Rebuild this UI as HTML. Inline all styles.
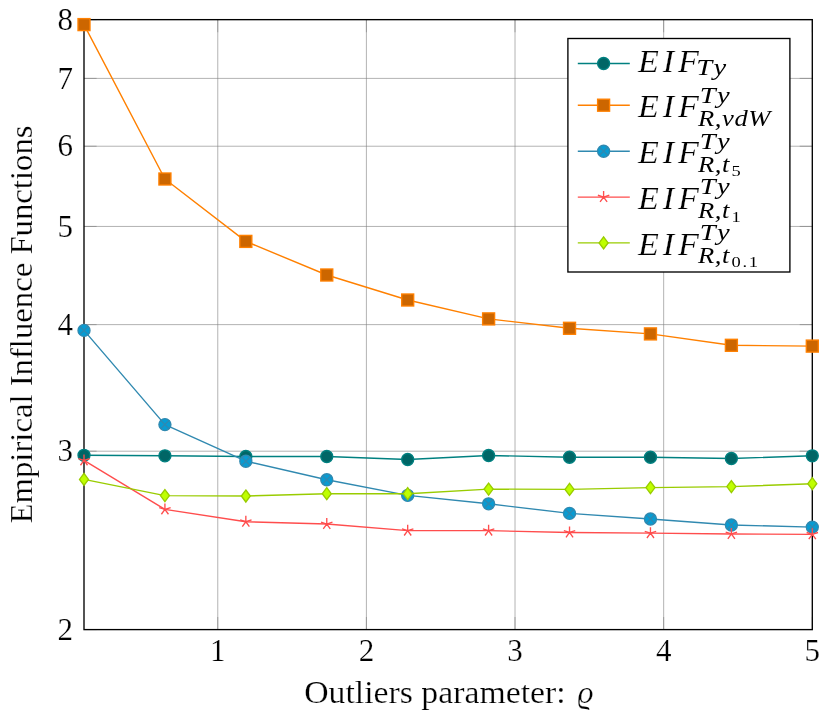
<!DOCTYPE html>
<html><head><meta charset="utf-8"><title>EIF chart</title>
<style>
html,body{margin:0;padding:0;background:#fff;}
body{width:830px;height:718px;overflow:hidden;font-family:"Liberation Serif",serif;}
svg{display:block;will-change:transform;}
text{font-family:"Liberation Serif",serif;fill:#000;stroke:#fff;stroke-width:0.22px;}
.t{font-size:31px;}
.i{font-size:31px;font-style:italic;}
.s{font-size:22.3px;font-style:italic;stroke:none;}
.ss{font-size:15.5px;font-style:normal;stroke:none;}
</style></head><body>
<svg width="830" height="718" viewBox="0 0 830 718">
<rect x="0" y="0" width="830" height="718" fill="#fff"/>
<path d="M217.77 19.65V629.6M366.40 19.65V629.6M515.03 19.65V629.6M663.67 19.65V629.6M84.0 451.20H812.3M84.0 324.62H812.3M84.0 226.44H812.3M84.0 146.23H812.3M84.0 78.40H812.3" stroke="#808080" stroke-width="0.6" fill="none"/>
<path d="M217.77 629.6v-12.6M217.77 19.65v12.6M366.40 629.6v-12.6M366.40 19.65v12.6M515.03 629.6v-12.6M515.03 19.65v12.6M663.67 629.6v-12.6M663.67 19.65v12.6M812.30 629.6v-12.6M812.30 19.65v12.6M84.0 629.60h12.6M812.3 629.60h-12.6M84.0 451.20h12.6M812.3 451.20h-12.6M84.0 324.62h12.6M812.3 324.62h-12.6M84.0 226.44h12.6M812.3 226.44h-12.6M84.0 146.23h12.6M812.3 146.23h-12.6M84.0 78.40h12.6M812.3 78.40h-12.6M84.0 19.65h12.6M812.3 19.65h-12.6" stroke="#808080" stroke-width="0.6" fill="none"/>
<rect x="84.0" y="19.65" width="728.30" height="609.95" fill="none" stroke="#000" stroke-width="1.35"/>
<polyline points="84.00,455.30 164.92,455.80 245.84,456.50 326.77,456.50 407.69,459.50 488.61,455.50 569.53,457.20 650.46,457.20 731.38,458.50 812.30,455.80" fill="none" stroke="#008080" stroke-width="1.4" stroke-linejoin="round"/>
<circle cx="84.00" cy="455.30" r="6.0" fill="#006666" stroke="#008080" stroke-width="1.35"/>
<circle cx="164.92" cy="455.80" r="6.0" fill="#006666" stroke="#008080" stroke-width="1.35"/>
<circle cx="245.84" cy="456.50" r="6.0" fill="#006666" stroke="#008080" stroke-width="1.35"/>
<circle cx="326.77" cy="456.50" r="6.0" fill="#006666" stroke="#008080" stroke-width="1.35"/>
<circle cx="407.69" cy="459.50" r="6.0" fill="#006666" stroke="#008080" stroke-width="1.35"/>
<circle cx="488.61" cy="455.50" r="6.0" fill="#006666" stroke="#008080" stroke-width="1.35"/>
<circle cx="569.53" cy="457.20" r="6.0" fill="#006666" stroke="#008080" stroke-width="1.35"/>
<circle cx="650.46" cy="457.20" r="6.0" fill="#006666" stroke="#008080" stroke-width="1.35"/>
<circle cx="731.38" cy="458.50" r="6.0" fill="#006666" stroke="#008080" stroke-width="1.35"/>
<circle cx="812.30" cy="455.80" r="6.0" fill="#006666" stroke="#008080" stroke-width="1.35"/>
<polyline points="84.00,24.60 164.92,179.00 245.84,241.40 326.77,275.00 407.69,300.00 488.61,318.90 569.53,328.30 650.46,333.90 731.38,345.30 812.30,346.10" fill="none" stroke="#FF8000" stroke-width="1.4" stroke-linejoin="round"/>
<rect x="78.00" y="18.60" width="12.0" height="12.0" fill="#CC6600" stroke="#FF8000" stroke-width="1.35"/>
<rect x="158.92" y="173.00" width="12.0" height="12.0" fill="#CC6600" stroke="#FF8000" stroke-width="1.35"/>
<rect x="239.84" y="235.40" width="12.0" height="12.0" fill="#CC6600" stroke="#FF8000" stroke-width="1.35"/>
<rect x="320.77" y="269.00" width="12.0" height="12.0" fill="#CC6600" stroke="#FF8000" stroke-width="1.35"/>
<rect x="401.69" y="294.00" width="12.0" height="12.0" fill="#CC6600" stroke="#FF8000" stroke-width="1.35"/>
<rect x="482.61" y="312.90" width="12.0" height="12.0" fill="#CC6600" stroke="#FF8000" stroke-width="1.35"/>
<rect x="563.53" y="322.30" width="12.0" height="12.0" fill="#CC6600" stroke="#FF8000" stroke-width="1.35"/>
<rect x="644.46" y="327.90" width="12.0" height="12.0" fill="#CC6600" stroke="#FF8000" stroke-width="1.35"/>
<rect x="725.38" y="339.30" width="12.0" height="12.0" fill="#CC6600" stroke="#FF8000" stroke-width="1.35"/>
<rect x="806.30" y="340.10" width="12.0" height="12.0" fill="#CC6600" stroke="#FF8000" stroke-width="1.35"/>
<polyline points="84.00,330.40 164.92,424.60 245.84,461.20 326.77,479.70 407.69,495.40 488.61,503.80 569.53,513.40 650.46,519.00 731.38,525.00 812.30,527.10" fill="none" stroke="#3089B0" stroke-width="1.4" stroke-linejoin="round"/>
<circle cx="84.00" cy="330.40" r="6.0" fill="#079CD3" stroke="#3089B0" stroke-width="1.35"/><path d="M79.76 326.16L88.24 334.64M79.76 334.64L88.24 326.16" stroke="#3089B0" stroke-width="1.35" fill="none"/>
<circle cx="164.92" cy="424.60" r="6.0" fill="#079CD3" stroke="#3089B0" stroke-width="1.35"/><path d="M160.68 420.36L169.16 428.84M160.68 428.84L169.16 420.36" stroke="#3089B0" stroke-width="1.35" fill="none"/>
<circle cx="245.84" cy="461.20" r="6.0" fill="#079CD3" stroke="#3089B0" stroke-width="1.35"/><path d="M241.60 456.96L250.09 465.44M241.60 465.44L250.09 456.96" stroke="#3089B0" stroke-width="1.35" fill="none"/>
<circle cx="326.77" cy="479.70" r="6.0" fill="#079CD3" stroke="#3089B0" stroke-width="1.35"/><path d="M322.52 475.46L331.01 483.94M322.52 483.94L331.01 475.46" stroke="#3089B0" stroke-width="1.35" fill="none"/>
<circle cx="407.69" cy="495.40" r="6.0" fill="#079CD3" stroke="#3089B0" stroke-width="1.35"/><path d="M403.45 491.16L411.93 499.64M403.45 499.64L411.93 491.16" stroke="#3089B0" stroke-width="1.35" fill="none"/>
<circle cx="488.61" cy="503.80" r="6.0" fill="#079CD3" stroke="#3089B0" stroke-width="1.35"/><path d="M484.37 499.56L492.85 508.04M484.37 508.04L492.85 499.56" stroke="#3089B0" stroke-width="1.35" fill="none"/>
<circle cx="569.53" cy="513.40" r="6.0" fill="#079CD3" stroke="#3089B0" stroke-width="1.35"/><path d="M565.29 509.16L573.78 517.64M565.29 517.64L573.78 509.16" stroke="#3089B0" stroke-width="1.35" fill="none"/>
<circle cx="650.46" cy="519.00" r="6.0" fill="#079CD3" stroke="#3089B0" stroke-width="1.35"/><path d="M646.21 514.76L654.70 523.24M646.21 523.24L654.70 514.76" stroke="#3089B0" stroke-width="1.35" fill="none"/>
<circle cx="731.38" cy="525.00" r="6.0" fill="#079CD3" stroke="#3089B0" stroke-width="1.35"/><path d="M727.14 520.76L735.62 529.24M727.14 529.24L735.62 520.76" stroke="#3089B0" stroke-width="1.35" fill="none"/>
<circle cx="812.30" cy="527.10" r="6.0" fill="#079CD3" stroke="#3089B0" stroke-width="1.35"/><path d="M808.06 522.86L816.54 531.34M808.06 531.34L816.54 522.86" stroke="#3089B0" stroke-width="1.35" fill="none"/>
<polyline points="84.00,460.40 164.92,509.40 245.84,521.75 326.77,524.05 407.69,530.65 488.61,530.65 569.53,532.45 650.46,533.15 731.38,533.95 812.30,534.35" fill="none" stroke="#FF4D4D" stroke-width="1.4" stroke-linejoin="round"/>
<path d="M84.00 460.40L84.00 454.40M84.00 460.40L78.29 458.55M84.00 460.40L80.47 465.25M84.00 460.40L87.53 465.25M84.00 460.40L89.71 458.55" stroke="#FF4D4D" stroke-width="1.35" fill="none"/>
<path d="M164.92 509.40L164.92 503.40M164.92 509.40L159.22 507.55M164.92 509.40L161.40 514.25M164.92 509.40L168.45 514.25M164.92 509.40L170.63 507.55" stroke="#FF4D4D" stroke-width="1.35" fill="none"/>
<path d="M245.84 521.75L245.84 515.75M245.84 521.75L240.14 519.90M245.84 521.75L242.32 526.60M245.84 521.75L249.37 526.60M245.84 521.75L251.55 519.90" stroke="#FF4D4D" stroke-width="1.35" fill="none"/>
<path d="M326.77 524.05L326.77 518.05M326.77 524.05L321.06 522.20M326.77 524.05L323.24 528.90M326.77 524.05L330.29 528.90M326.77 524.05L332.47 522.20" stroke="#FF4D4D" stroke-width="1.35" fill="none"/>
<path d="M407.69 530.65L407.69 524.65M407.69 530.65L401.98 528.80M407.69 530.65L404.16 535.50M407.69 530.65L411.22 535.50M407.69 530.65L413.40 528.80" stroke="#FF4D4D" stroke-width="1.35" fill="none"/>
<path d="M488.61 530.65L488.61 524.65M488.61 530.65L482.90 528.80M488.61 530.65L485.08 535.50M488.61 530.65L492.14 535.50M488.61 530.65L494.32 528.80" stroke="#FF4D4D" stroke-width="1.35" fill="none"/>
<path d="M569.53 532.45L569.53 526.45M569.53 532.45L563.83 530.60M569.53 532.45L566.01 537.30M569.53 532.45L573.06 537.30M569.53 532.45L575.24 530.60" stroke="#FF4D4D" stroke-width="1.35" fill="none"/>
<path d="M650.46 533.15L650.46 527.15M650.46 533.15L644.75 531.30M650.46 533.15L646.93 538.00M650.46 533.15L653.98 538.00M650.46 533.15L656.16 531.30" stroke="#FF4D4D" stroke-width="1.35" fill="none"/>
<path d="M731.38 533.95L731.38 527.95M731.38 533.95L725.67 532.10M731.38 533.95L727.85 538.80M731.38 533.95L734.90 538.80M731.38 533.95L737.08 532.10" stroke="#FF4D4D" stroke-width="1.35" fill="none"/>
<path d="M812.30 534.35L812.30 528.35M812.30 534.35L806.59 532.50M812.30 534.35L808.77 539.20M812.30 534.35L815.83 539.20M812.30 534.35L818.01 532.50" stroke="#FF4D4D" stroke-width="1.35" fill="none"/>
<polyline points="84.00,479.40 164.92,495.60 245.84,496.00 326.77,493.70 407.69,493.70 488.61,489.10 569.53,489.40 650.46,487.60 731.38,486.60 812.30,483.70" fill="none" stroke="#99CC00" stroke-width="1.4" stroke-linejoin="round"/>
<path d="M84.00 473.40L88.50 479.40L84.00 485.40L79.50 479.40Z" fill="#BFFF00" stroke="#99CC00" stroke-width="1.35" stroke-linejoin="miter"/>
<path d="M164.92 489.60L169.42 495.60L164.92 501.60L160.42 495.60Z" fill="#BFFF00" stroke="#99CC00" stroke-width="1.35" stroke-linejoin="miter"/>
<path d="M245.84 490.00L250.34 496.00L245.84 502.00L241.34 496.00Z" fill="#BFFF00" stroke="#99CC00" stroke-width="1.35" stroke-linejoin="miter"/>
<path d="M326.77 487.70L331.27 493.70L326.77 499.70L322.27 493.70Z" fill="#BFFF00" stroke="#99CC00" stroke-width="1.35" stroke-linejoin="miter"/>
<path d="M407.69 487.70L412.19 493.70L407.69 499.70L403.19 493.70Z" fill="#BFFF00" stroke="#99CC00" stroke-width="1.35" stroke-linejoin="miter"/>
<path d="M488.61 483.10L493.11 489.10L488.61 495.10L484.11 489.10Z" fill="#BFFF00" stroke="#99CC00" stroke-width="1.35" stroke-linejoin="miter"/>
<path d="M569.53 483.40L574.03 489.40L569.53 495.40L565.03 489.40Z" fill="#BFFF00" stroke="#99CC00" stroke-width="1.35" stroke-linejoin="miter"/>
<path d="M650.46 481.60L654.96 487.60L650.46 493.60L645.96 487.60Z" fill="#BFFF00" stroke="#99CC00" stroke-width="1.35" stroke-linejoin="miter"/>
<path d="M731.38 480.60L735.88 486.60L731.38 492.60L726.88 486.60Z" fill="#BFFF00" stroke="#99CC00" stroke-width="1.35" stroke-linejoin="miter"/>
<path d="M812.30 477.70L816.80 483.70L812.30 489.70L807.80 483.70Z" fill="#BFFF00" stroke="#99CC00" stroke-width="1.35" stroke-linejoin="miter"/>
<text class="t" x="217.77" y="660.5" text-anchor="middle">1</text>
<text class="t" x="366.40" y="660.5" text-anchor="middle">2</text>
<text class="t" x="515.03" y="660.5" text-anchor="middle">3</text>
<text class="t" x="663.67" y="660.5" text-anchor="middle">4</text>
<text class="t" x="812.30" y="660.5" text-anchor="middle">5</text>
<text class="t" x="72.9" y="639.80" text-anchor="end">2</text>
<text class="t" x="72.9" y="461.40" text-anchor="end">3</text>
<text class="t" x="72.9" y="334.82" text-anchor="end">4</text>
<text class="t" x="72.9" y="236.64" text-anchor="end">5</text>
<text class="t" x="72.9" y="156.43" text-anchor="end">6</text>
<text class="t" x="72.9" y="88.60" text-anchor="end">7</text>
<text class="t" x="72.9" y="29.85" text-anchor="end">8</text>
<text class="t" id="xl" x="304.2" y="702.8" textLength="261.5" lengthAdjust="spacingAndGlyphs">Outliers parameter:</text>
<text class="i" id="rho" x="577.5" y="702.8" textLength="16" lengthAdjust="spacingAndGlyphs">ϱ</text>
<text class="t" id="yl" transform="translate(31.5,324.5) rotate(-90)" text-anchor="middle" textLength="398" lengthAdjust="spacingAndGlyphs">Empirical Influence Functions</text>
<rect x="567.9" y="38.5" width="222.00" height="233.50" fill="#fff" stroke="#000" stroke-width="1.35"/>
<path d="M577.8 63.5H629.8" stroke="#008080" stroke-width="1.4" fill="none"/>
<circle cx="603.60" cy="63.50" r="6.0" fill="#006666" stroke="#008080" stroke-width="1.35"/>
<text class="i" transform="translate(638.00,71.50) scale(1.1,1)" letter-spacing="3.6" >EIF</text>
<text class="s" transform="translate(696.30,75.40) scale(1.28,1)" letter-spacing="2.6" >Ty</text>
<path d="M577.8 105.2H629.8" stroke="#FF8000" stroke-width="1.4" fill="none"/>
<rect x="597.60" y="99.20" width="12.0" height="12.0" fill="#CC6600" stroke="#FF8000" stroke-width="1.35"/>
<text class="i" transform="translate(638.00,117.30) scale(1.1,1)" letter-spacing="3.6" >EIF</text>
<text class="s" transform="translate(699.80,102.50) scale(1.28,1)" letter-spacing="2.6" >Ty</text>
<text class="s" transform="translate(698.00,125.60) scale(1.19,1)" letter-spacing="0.5" >R,vdW</text>
<path d="M577.8 151.2H629.8" stroke="#3089B0" stroke-width="1.4" fill="none"/>
<circle cx="603.60" cy="151.20" r="6.0" fill="#079CD3" stroke="#3089B0" stroke-width="1.35"/><path d="M599.36 146.96L607.84 155.44M599.36 155.44L607.84 146.96" stroke="#3089B0" stroke-width="1.35" fill="none"/>
<text class="i" transform="translate(638.00,163.30) scale(1.1,1)" letter-spacing="3.6" >EIF</text>
<text class="s" transform="translate(699.80,148.50) scale(1.28,1)" letter-spacing="2.6" >Ty</text>
<text class="s" transform="translate(698.00,171.60) scale(1.19,1)" letter-spacing="0.5" >R,t<tspan class="ss" dy="4" dx="1.2">5</tspan></text>
<path d="M577.8 197.1H629.8" stroke="#FF4D4D" stroke-width="1.4" fill="none"/>
<path d="M603.60 197.10L603.60 191.10M603.60 197.10L597.89 195.25M603.60 197.10L600.07 201.95M603.60 197.10L607.13 201.95M603.60 197.10L609.31 195.25" stroke="#FF4D4D" stroke-width="1.35" fill="none"/>
<text class="i" transform="translate(638.00,209.20) scale(1.1,1)" letter-spacing="3.6" >EIF</text>
<text class="s" transform="translate(699.80,194.40) scale(1.28,1)" letter-spacing="2.6" >Ty</text>
<text class="s" transform="translate(698.00,217.50) scale(1.19,1)" letter-spacing="0.5" >R,t<tspan class="ss" dy="4" dx="1.2">1</tspan></text>
<path d="M577.8 242.9H629.8" stroke="#99CC00" stroke-width="1.4" fill="none"/>
<path d="M603.60 236.90L608.10 242.90L603.60 248.90L599.10 242.90Z" fill="#BFFF00" stroke="#99CC00" stroke-width="1.35" stroke-linejoin="miter"/>
<text class="i" transform="translate(638.00,255.00) scale(1.1,1)" letter-spacing="3.6" >EIF</text>
<text class="s" transform="translate(699.80,240.20) scale(1.28,1)" letter-spacing="2.6" >Ty</text>
<text class="s" transform="translate(698.00,263.30) scale(1.19,1)" letter-spacing="0.5" >R,t<tspan class="ss" dy="4" dx="1.2" letter-spacing="1.5">0.1</tspan></text>
</svg></body></html>
